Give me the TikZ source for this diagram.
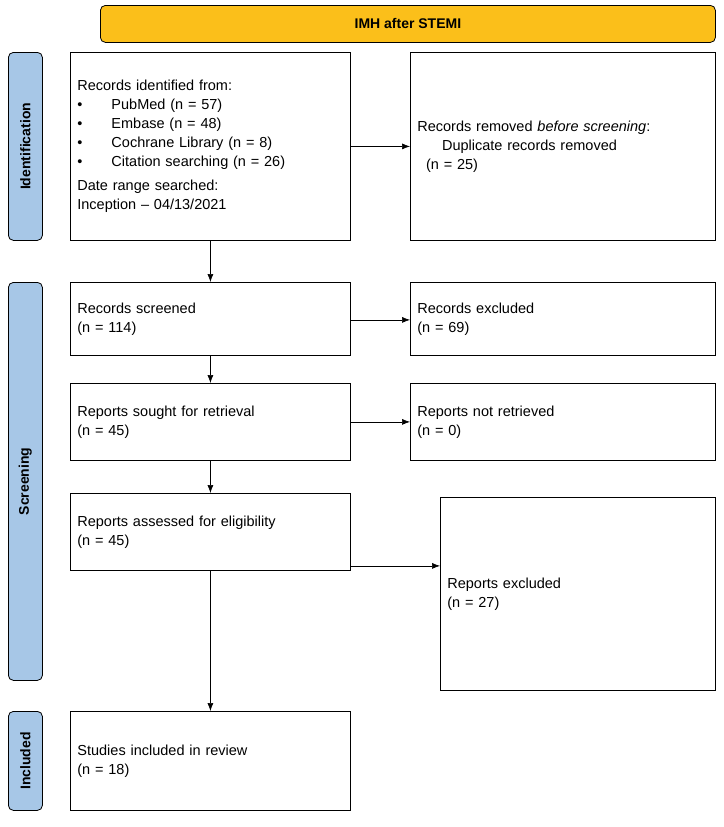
\documentclass[tikz,border=0pt]{standalone}
\usepackage{fontspec}
\setmainfont{Liberation Sans}
\usetikzlibrary{positioning,arrows.meta}
\definecolor{bannerorange}{HTML}{FBBF1A}
\definecolor{sideblue}{HTML}{A7C7E7}
\tikzset{
  box/.style={draw, line width=0.8pt, anchor=north west, align=left, inner sep=0pt,
    font=\fontsize{14.5}{19}\selectfont},
  side/.style={draw, line width=0.8pt, fill=sideblue, rounded corners=5pt, anchor=north west,
    minimum width=34pt, font=\bfseries\fontsize{14}{16}\selectfont},
  arr/.style={-{Latex[length=8pt,width=6pt]}, line width=0.6pt}
}
\begin{document}
\begin{tikzpicture}[x=1pt,y=-1pt]
  \useasboundingbox (0,0) rectangle (723,827);
  % banner
  \node[draw, line width=0.8pt, fill=bannerorange, rounded corners=5pt, anchor=north west,
    minimum width=615pt, minimum height=37pt, font=\bfseries\fontsize{14}{16}\selectfont]
    (banner) at (100,5) {IMH after STEMI};
  % side labels
  \node[side, minimum height=188pt] (ident) at (8,52) {};
  \node[rotate=90, font=\bfseries\fontsize{14}{16}\selectfont] at (ident.center) {Identification};
  \node[side, minimum height=398pt] (screen) at (8,282) {};
  \node[rotate=90, font=\bfseries\fontsize{14}{16}\selectfont] at (screen.center) {Screening};
  \node[side, minimum height=99pt] (incl) at (8,711) {};
  \node[rotate=90, font=\bfseries\fontsize{14}{16}\selectfont] at (incl.center) {Included};
  % left column
  \node[box, minimum width=280pt, minimum height=188pt, text width=266pt, inner xsep=7pt] (identified) at (70,52)
    {Records identified from:\\
     \textbullet\hspace{2em}PubMed (n = 57)\\
     \textbullet\hspace{2em}Embase (n = 48)\\
     \textbullet\hspace{2em}Cochrane Library (n = 8)\\
     \textbullet\hspace{2em}Citation searching (n = 26)\\[5pt]
     Date range searched:\\
     Inception -- 04/13/2021};
  \node[box, minimum width=280pt, minimum height=73pt, text width=266pt, inner xsep=7pt] (screened) at (70,282)
    {Records screened\\(n = 114)};
  \node[box, minimum width=280pt, minimum height=77pt, text width=266pt, inner xsep=7pt] (sought) at (70,383)
    {Reports sought for retrieval\\(n = 45)};
  \node[box, minimum width=280pt, minimum height=77pt, text width=266pt, inner xsep=7pt] (assessed) at (70,493)
    {Reports assessed for eligibility\\(n = 45)};
  \node[box, minimum width=280pt, minimum height=99pt, text width=266pt, inner xsep=7pt] (included) at (70,711)
    {Studies included in review\\(n = 18)};
  % right column
  \node[box, minimum width=305pt, minimum height=188pt, text width=291pt, inner xsep=7pt] (removed) at (410,52)
    {Records removed \textit{before screening}:\\
     \hspace{1.7em}Duplicate records removed\\
     \hspace{0.6em}(n = 25)};
  \node[box, minimum width=305pt, minimum height=73pt, text width=291pt, inner xsep=7pt] (excluded) at (410,282)
    {Records excluded\\(n = 69)};
  \node[box, minimum width=305pt, minimum height=77pt, text width=291pt, inner xsep=7pt] (notretr) at (410,383)
    {Reports not retrieved\\(n = 0)};
  \node[box, minimum width=275pt, minimum height=193pt, text width=261pt, inner xsep=7pt] (repexcl) at (440,497)
    {Reports excluded\\(n = 27)};
  % vertical arrows
  \draw[arr] (identified.south) -- (screened.north);
  \draw[arr] (screened.south) -- (sought.north);
  \draw[arr] (sought.south) -- (assessed.north);
  \draw[arr] (assessed.south) -- (included.north);
  % horizontal arrows
  \draw[arr] (identified.east) -- (identified.east -| removed.west);
  \draw[arr] ([yshift=-1pt]screened.east) -- ([yshift=-1pt]screened.east -| excluded.west);
  \draw[arr] (sought.east) -- (sought.east -| notretr.west);
  \draw[arr] ([yshift=-34pt]assessed.east) -- ([yshift=-34pt]assessed.east -| repexcl.west);
\end{tikzpicture}
\end{document}
